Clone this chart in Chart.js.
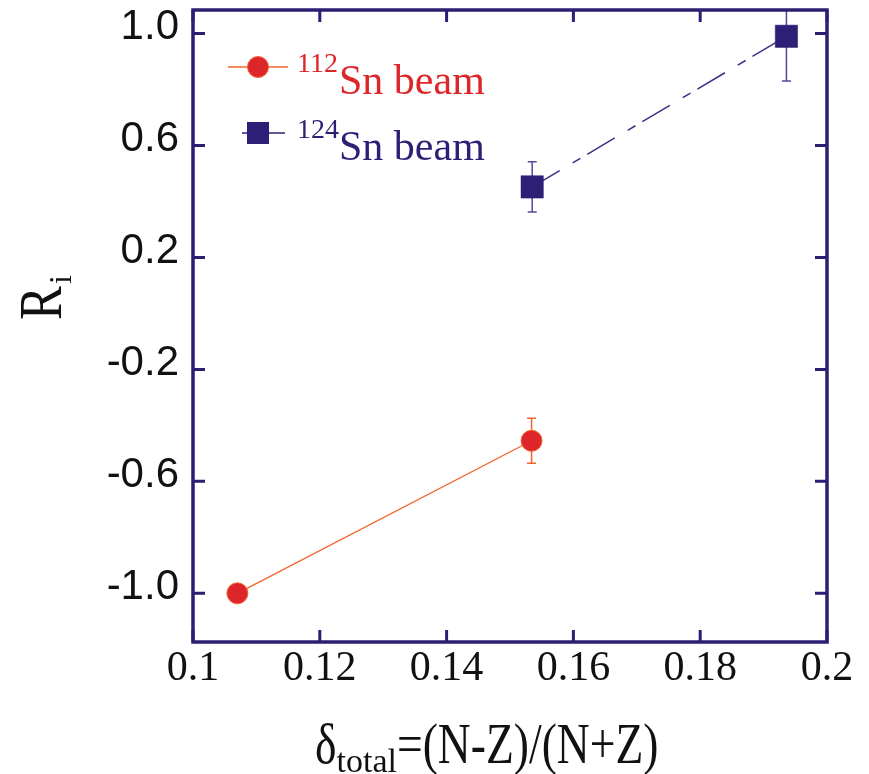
<!DOCTYPE html>
<html>
<head>
<meta charset="utf-8">
<script src="https://cdn.jsdelivr.net/npm/chart.js@4.4.1/dist/chart.umd.min.js"></script>
<style>
  body { margin: 0; background: #fff; }
  canvas { display: block; }
</style>
</head>
<body>
<canvas id="chart" width="869" height="774"></canvas>
<script>
// 112Sn beam
const sn112X = [0.107, 0.1534];
const sn112R = [-1.0, -0.455];
const sn112Err = [0, 0.08];

// 124Sn beam
const sn124X = [0.1535, 0.1936];
const sn124R = [0.452, 0.99];
const sn124Err = [0.09, 0.16];

const xTicks = [0.1, 0.12, 0.14, 0.16, 0.18, 0.2];
const yTicks = [-1.0, -0.6, -0.2, 0.2, 0.6, 1.0];

const navy = '#2b1f74';
const red = '#dc262a';
const orange = '#f2642c';
const blue = '#2e1f76';

function toPoints(xs, ys) {
    return xs.map((x, i) => ({ x: x, y: ys[i] }));
}

// draws text pieces one after another (for sub/superscripts)
function drawParts(ctx, x, y, parts) {
    parts.forEach(p => {
        let sx = p.sx || 1;
        ctx.save();
        ctx.font = p.font;
        ctx.fillStyle = p.color;
        ctx.textBaseline = 'alphabetic';
        ctx.textAlign = 'left';
        ctx.translate(x, y + (p.dy || 0));
        ctx.scale(sx, 1);
        ctx.fillText(p.text, 0, 0);
        ctx.restore();
        ctx.font = p.font;
        x += ctx.measureText(p.text).width * sx + (p.gap || 0);
    });
}

const errors = [sn112Err, sn124Err];
const errColors = [orange, '#54479a'];

const extras = {
    id: 'extras',
    beforeDatasetsDraw(chart) {
        let ctx = chart.ctx;
        let area = chart.chartArea;
        let xs = chart.scales.x;
        let ys = chart.scales.y;

        ctx.save();
        ctx.beginPath();
        ctx.rect(area.left, area.top, area.right - area.left, area.bottom - area.top);
        ctx.clip();
        chart.data.datasets.forEach((ds, d) => {
            ds.data.forEach((pt, i) => {
                let e = errors[d][i];
                if (!e) return;
                let px = xs.getPixelForValue(pt.x);
                let y1 = ys.getPixelForValue(pt.y + e);
                let y2 = ys.getPixelForValue(pt.y - e);
                ctx.strokeStyle = errColors[d];
                ctx.lineWidth = 1.5;
                ctx.beginPath();
                ctx.moveTo(px, y1);
                ctx.lineTo(px, y2);
                ctx.moveTo(px - 4.5, y1);
                ctx.lineTo(px + 4.5, y1);
                ctx.moveTo(px - 4.5, y2);
                ctx.lineTo(px + 4.5, y2);
                ctx.stroke();
            });
        });
        ctx.restore();
    },
    afterDraw(chart) {
        let ctx = chart.ctx;
        let a = chart.chartArea;
        let xs = chart.scales.x;
        let ys = chart.scales.y;

        ctx.save();
        // frame
        ctx.strokeStyle = navy;
        ctx.lineWidth = 3.5;
        ctx.strokeRect(a.left, a.top, a.right - a.left, a.bottom - a.top);

        // inward ticks on all four sides
        ctx.lineWidth = 3;
        ctx.beginPath();
        xTicks.forEach(v => {
            let px = xs.getPixelForValue(v);
            ctx.moveTo(px, a.bottom);
            ctx.lineTo(px, a.bottom - 12);
            ctx.moveTo(px, a.top);
            ctx.lineTo(px, a.top + 12);
        });
        yTicks.forEach(v => {
            let py = ys.getPixelForValue(v);
            ctx.moveTo(a.left, py);
            ctx.lineTo(a.left + 12, py);
            ctx.moveTo(a.right, py);
            ctx.lineTo(a.right - 12, py);
        });
        ctx.stroke();

        // legend
        let lx = a.left + 65;
        ctx.strokeStyle = orange;
        ctx.lineWidth = 1.5;
        ctx.beginPath();
        ctx.moveTo(lx - 30, a.top + 57);
        ctx.lineTo(lx + 30, a.top + 57);
        ctx.stroke();
        ctx.fillStyle = red;
        ctx.strokeStyle = orange;
        ctx.lineWidth = 1;
        ctx.beginPath();
        ctx.arc(lx, a.top + 57, 10.5, 0, Math.PI * 2);
        ctx.fill();
        ctx.stroke();

        ctx.strokeStyle = blue;
        ctx.lineWidth = 1.5;
        ctx.beginPath();
        ctx.moveTo(lx - 16, a.top + 123);
        ctx.lineTo(lx + 27, a.top + 123);
        ctx.stroke();
        ctx.fillStyle = blue;
        ctx.fillRect(lx - 11, a.top + 112, 22, 22);

        drawParts(ctx, a.left + 104, a.top + 62, [
            { text: '112', font: '28px "Liberation Serif"', color: red }
        ]);
        drawParts(ctx, a.left + 146, a.top + 84, [
            { text: 'Sn beam', font: '42px "Liberation Serif"', color: red }
        ]);
        drawParts(ctx, a.left + 104, a.top + 128, [
            { text: '124', font: '28px "Liberation Serif"', color: blue }
        ]);
        drawParts(ctx, a.left + 146, a.top + 150, [
            { text: 'Sn beam', font: '42px "Liberation Serif"', color: blue }
        ]);

        // x title
        drawParts(ctx, a.left + 122, 763, [
            { text: '\u03b4', font: '57px "Liberation Serif"', color: '#111', sx: 0.8 },
            { text: 'total', font: '34px "Liberation Serif"', color: '#111', dy: 9 },
            { text: '=(N-Z)/(N+Z)', font: '57px "Liberation Serif"', color: '#111', sx: 0.8 }
        ]);

        // y title, rotated
        ctx.save();
        ctx.translate(61, 320);
        ctx.rotate(-Math.PI / 2);
        drawParts(ctx, 0, 0, [
            { text: 'R', font: '62px "Liberation Serif"', color: '#111', sx: 0.82, gap: 2 },
            { text: 'i', font: '32px "Liberation Serif"', color: '#111', dy: 10 }
        ]);
        ctx.restore();

        ctx.restore();
    }
};

var ctx = document.getElementById('chart').getContext('2d');
var chart = new Chart(ctx, {
    type: 'scatter',
    data: {
        datasets: [{
            label: '112Sn beam',
            data: toPoints(sn112X, sn112R),
            showLine: true,
            borderColor: orange,
            borderWidth: 1.3,
            pointRadius: 10.5,
            pointBackgroundColor: red,
            pointBorderColor: orange,
            pointBorderWidth: 1
        }, {
            label: '124Sn beam',
            data: toPoints(sn124X, sn124R),
            showLine: true,
            borderColor: '#3d2f86',
            borderWidth: 1.5,
            borderDash: [32, 15, 9, 8],
            pointStyle: 'rect',
            pointRadius: 15.8,
            pointBackgroundColor: blue,
            pointBorderColor: blue,
            pointBorderWidth: 0.5
        }]
    },
    options: {
        responsive: false,
        devicePixelRatio: 1,
        animation: false,
        layout: { autoPadding: false, padding: { left: 0, right: 42, top: 10, bottom: 0 } },
        plugins: {
            legend: { display: false },
            tooltip: { enabled: false }
        },
        scales: {
            x: {
                type: 'linear',
                min: 0.1,
                max: 0.2,
                grid: { display: false, drawTicks: false },
                border: { display: false },
                afterBuildTicks: scale => { scale.ticks = xTicks.map(v => ({ value: v })); },
                afterFit: scale => {
                    scale.height = 132;
                    scale.paddingLeft = 0;
                    scale.paddingRight = 0;
                },
                ticks: {
                    padding: 2,
                    color: '#111',
                    font: { family: '"Liberation Serif"', size: 42 },
                    callback: v => String(Number(v.toFixed(2)))
                }
            },
            y: {
                type: 'linear',
                min: -1.174,
                max: 1.084,
                grid: { display: false, drawTicks: false },
                border: { display: false },
                afterBuildTicks: scale => { scale.ticks = yTicks.map(v => ({ value: v })); },
                afterFit: scale => {
                    scale.width = 193;
                    scale.paddingTop = 0;
                    scale.paddingBottom = 0;
                },
                ticks: {
                    padding: 14,
                    labelOffset: -6,
                    color: '#111',
                    font: { family: '"Liberation Sans"', size: 42 },
                    callback: v => v.toFixed(1)
                }
            }
        }
    },
    plugins: [extras]
});
</script>
</body>
</html>
